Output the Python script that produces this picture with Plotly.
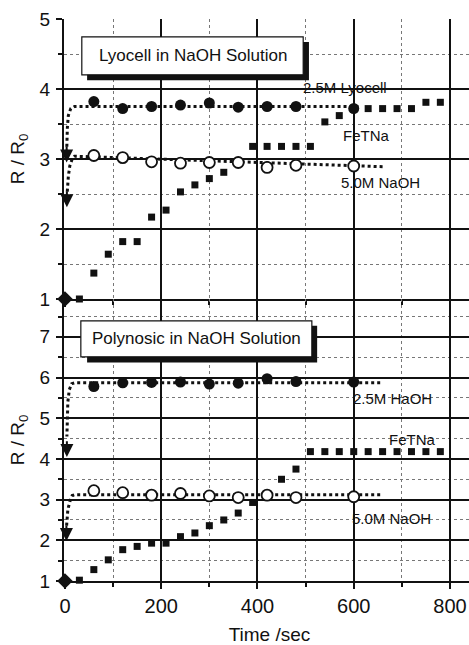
import plotly.graph_objects as go

# ---------------- data ----------------
t_circ = [60, 120, 180, 240, 300, 360, 420, 480, 600]
t_start = [0]
r_start = [1.0]

# Lyocell panel
lyo_25M = [3.82, 3.72, 3.75, 3.77, 3.80, 3.74, 3.75, 3.75, 3.72]
lyo_50M = [3.05, 3.02, 2.96, 2.94, 2.95, 2.95, 2.88, 2.91, 2.90]
t_fe = [30, 60, 90, 120, 150, 180, 210, 240, 270, 300, 330, 360, 390,
        420, 450, 480, 510, 540, 570, 600, 630, 660, 690, 720, 750, 780]
lyo_fe = [1.00, 1.37, 1.64, 1.82, 1.82, 2.17, 2.27, 2.53, 2.63, 2.72, 2.81,
          2.97, 3.18, 3.18, 3.18, 3.18, 3.18, 3.53, 3.62, 3.73, 3.72, 3.72,
          3.72, 3.72, 3.81, 3.81]
# fitted (dotted) curves
lyo_fit25_t = [610, 20, 12, 7, 5, 4, 3.5]
lyo_fit25_r = [3.75, 3.75, 3.72, 3.62, 3.45, 3.25, 3.08]
lyo_fit25_tip = (3.5, 2.95)
lyo_fit50_t = [660, 20, 15, 10, 7, 5, 4]
lyo_fit50_r = [2.89, 3.04, 3.00, 2.90, 2.75, 2.60, 2.45]
lyo_fit50_tip = (4, 2.31)

# Polynosic panel
poly_25M = [5.78, 5.87, 5.88, 5.89, 5.84, 5.86, 5.97, 5.90, 5.89]
poly_50M = [3.22, 3.17, 3.11, 3.15, 3.09, 3.05, 3.11, 3.05, 3.07]
poly_fe = [1.02, 1.28, 1.52, 1.77, 1.85, 1.93, 1.93, 2.09, 2.18, 2.36, 2.50,
           2.67, 2.93, 3.12, 3.50, 3.75, 4.18, 4.18, 4.18, 4.18, 4.18, 4.18,
           4.18, 4.18, 4.18, 4.18]
poly_fit25_t = [655, 20, 14, 9, 6, 5, 4]
poly_fit25_r = [5.87, 5.87, 5.85, 5.70, 5.40, 5.00, 4.55]
poly_fit25_tip = (4, 4.05)
poly_fit50_t = [655, 20, 15, 10, 6, 4, 3]
poly_fit50_r = [3.12, 3.12, 3.10, 2.95, 2.75, 2.50, 2.30]
poly_fit50_tip = (3, 1.98)

x_ticks = [0, 200, 400, 600, 800]

FONT = "Liberation Sans, Arial, sans-serif"
BLACK = "#111111"

fig = go.Figure()


def add_panel(xa, ya, r25, r50, rfe, f25t, f25r, f50t, f50r):
    dot = dict(color=BLACK, width=3, dash="dot")
    fig.add_trace(go.Scatter(x=f25t, y=f25r, mode="lines", line=dot,
                             xaxis=xa, yaxis=ya, hoverinfo="skip"))
    fig.add_trace(go.Scatter(x=f50t, y=f50r, mode="lines", line=dot,
                             xaxis=xa, yaxis=ya, hoverinfo="skip"))
    fig.add_trace(go.Scatter(x=t_fe, y=rfe, mode="markers", cliponaxis=False,
                             marker=dict(symbol="square", size=7, color=BLACK),
                             xaxis=xa, yaxis=ya))
    fig.add_trace(go.Scatter(x=t_circ, y=r25, mode="markers", cliponaxis=False,
                             marker=dict(symbol="circle", size=11, color=BLACK),
                             xaxis=xa, yaxis=ya))
    fig.add_trace(go.Scatter(x=t_circ, y=r50, mode="markers", cliponaxis=False,
                             marker=dict(symbol="circle", size=11, color="white",
                                         line=dict(color=BLACK, width=1.8)),
                             xaxis=xa, yaxis=ya))
    fig.add_trace(go.Scatter(x=t_start, y=r_start, mode="markers", cliponaxis=False,
                             marker=dict(symbol="diamond", size=12, color=BLACK),
                             xaxis=xa, yaxis=ya))


add_panel("x", "y", lyo_25M, lyo_50M, lyo_fe,
          lyo_fit25_t, lyo_fit25_r, lyo_fit50_t, lyo_fit50_r)
add_panel("x2", "y2", poly_25M, poly_50M, poly_fe,
          poly_fit25_t, poly_fit25_r, poly_fit50_t, poly_fit50_r)

# arrows at the start of fitted curves
annotations = []
for tip, xr, yr, tail in [(lyo_fit25_tip, "x", "y", 0.25), (lyo_fit50_tip, "x", "y", 0.25),
                          (poly_fit25_tip, "x2", "y2", 0.42), (poly_fit50_tip, "x2", "y2", 0.42)]:
    annotations.append(dict(x=tip[0], y=tip[1], ax=tip[0], ay=tip[1] + tail,
                            xref=xr, yref=yr, axref=xr, ayref=yr, text="",
                            showarrow=True, arrowhead=2, arrowsize=1.3,
                            arrowwidth=2, arrowcolor=BLACK))

lab = dict(font=dict(family=FONT, size=15, color=BLACK), showarrow=False)
annotations += [
    dict(x=582, y=4.02, xref="x", yref="y", text="2.5M Lyocell", **lab),
    dict(x=626, y=3.335, xref="x", yref="y", text="FeTNa", **lab),
    dict(x=655, y=2.665, xref="x", yref="y", text="5.0M NaOH", **lab),
    dict(x=680, y=5.48, xref="x2", yref="y2", text="2.5M HaOH", **lab),
    dict(x=723, y=4.48, xref="x2", yref="y2", text="FeTNa", **lab),
    dict(x=678, y=2.54, xref="x2", yref="y2", text="5.0M NaOH", **lab),
    dict(x=265, y=4.473, xref="x", yref="y", text="Lyocell in NaOH Solution",
         font=dict(family=FONT, size=17, color=BLACK), showarrow=False),
    dict(x=273, y=6.95, xref="x2", yref="y2", text="Polynosic in NaOH Solution",
         font=dict(family=FONT, size=17, color=BLACK), showarrow=False),
]

shapes = [
    # shadows
    dict(type="rect", xref="x", yref="y", x0=46, x1=507, y0=4.125, y1=4.673,
         fillcolor=BLACK, line=dict(width=0), layer="above"),
    dict(type="rect", xref="x", yref="y", x0=35, x1=495, y0=4.203, y1=4.744,
         fillcolor="white", line=dict(color=BLACK, width=1.2), layer="above"),
    dict(type="rect", xref="x2", yref="y2", x0=46, x1=524, y0=6.37, y1=7.27,
         fillcolor=BLACK, line=dict(width=0), layer="above"),
    dict(type="rect", xref="x2", yref="y2", x0=33, x1=513, y0=6.51, y1=7.39,
         fillcolor="white", line=dict(color=BLACK, width=1.2), layer="above"),
]

split = (583 - 300) / 564.0

# plot area runs past the right edge of the window (as in the cropped original)
xcommon = dict(range=[-2, 852], tickvals=x_ticks, showgrid=True,
               gridcolor=BLACK, gridwidth=1.5, zeroline=False,
               showline=True, linecolor=BLACK, linewidth=2,
               ticks="outside", ticklen=6, tickcolor=BLACK, tickwidth=1.5,
               minor=dict(dtick=100, tick0=0, showgrid=True, gridcolor="#777777",
                          griddash="dot", gridwidth=1, ticks="outside", ticklen=4,
                          tickcolor=BLACK),
               tickfont=dict(family=FONT, size=20, color=BLACK))
ycommon = dict(dtick=1, tick0=0, showgrid=True, gridcolor=BLACK, gridwidth=1.5,
               zeroline=False, showline=True, linecolor=BLACK, linewidth=2,
               ticks="outside", ticklen=6, tickcolor=BLACK, tickwidth=1.5,
               ticklabelstandoff=2,
               minor=dict(dtick=0.5, tick0=0, showgrid=True, gridcolor="#777777",
                          griddash="dot", gridwidth=1, ticks="outside", ticklen=4,
                          tickcolor=BLACK),
               tickfont=dict(family=FONT, size=19, color=BLACK),
               title=dict(text="R / R<sub>0</sub>", standoff=10,
                          font=dict(family=FONT, size=19, color=BLACK)))

fig.update_layout(
    width=475, height=645,
    margin=dict(l=64, r=0, t=19, b=62),
    paper_bgcolor="white", plot_bgcolor="white",
    showlegend=False,
    xaxis=dict(**xcommon, anchor="y", domain=[0, 1], showticklabels=False),
    yaxis=dict(**ycommon, anchor="x", domain=[split, 1], range=[1, 5]),
    xaxis2=dict(**xcommon, anchor="y2", domain=[0, 1], matches="x",
                title=dict(text="Time /sec", standoff=15,
                           font=dict(family=FONT, size=19, color=BLACK))),
    yaxis2=dict(**ycommon, anchor="x2", domain=[0, split], range=[1, 7.93]),
    annotations=annotations,
    shapes=shapes,
)

# remove the browser's default page margin and scrollbars so the figure fills the window
fig.write_html("out.html", config={"displayModeBar": False},
               post_script="document.body.style.margin='0';"
                           "document.body.style.overflow='hidden';"
                           "document.documentElement.style.overflow='hidden';")
